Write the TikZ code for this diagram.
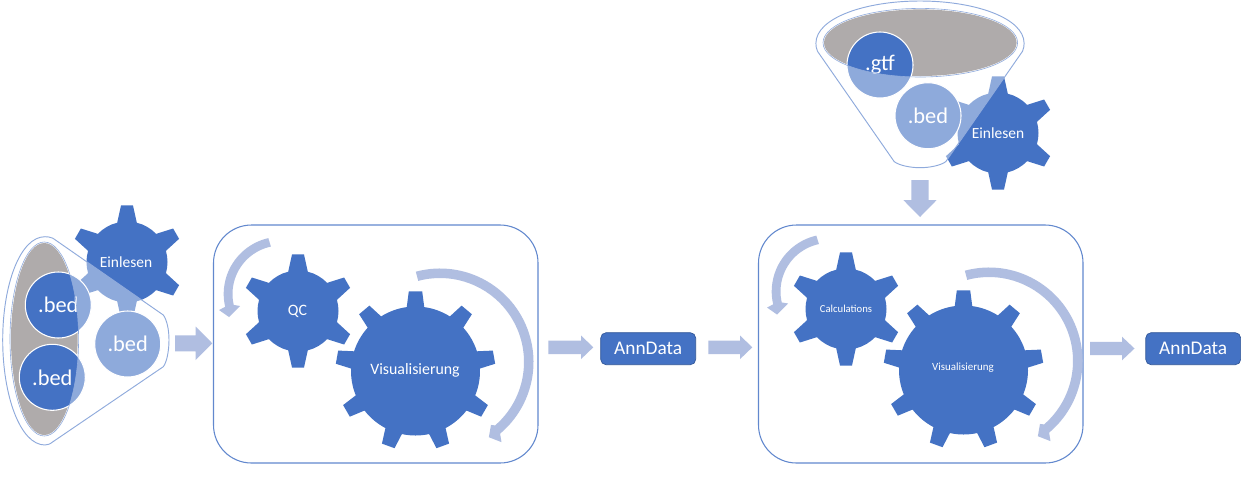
\documentclass[tikz,border=0pt]{standalone}
\usepackage{fontspec}
\setmainfont{Carlito}
\definecolor{gearblue}{HTML}{4472C4}
\definecolor{lineblue}{HTML}{8FAADC}
\definecolor{arrowblue}{HTML}{B0BEE1}
\definecolor{boxedge}{HTML}{2F5597}
\definecolor{holegray}{HTML}{AFABAB}
\tikzset{
  gearfill/.style={fill=gearblue},
  gearlabel/.style={text=white,inner sep=0pt},
  filecircle/.style={circle,fill=gearblue,draw=white,line width=.8pt,minimum size=49.5pt,inner sep=0pt,text=white,font=\fontsize{16.8}{18}\selectfont},
  flowbox/.style={draw=lineblue!40!gearblue,line width=.8pt,rounded corners=28.5pt},
  annbox/.style={rectangle,rounded corners=4pt,fill=gearblue,draw=boxedge,line width=.5pt,minimum width=71.2pt,minimum height=24pt,inner sep=0pt,text=white,font=\fontsize{14.5}{16}\selectfont},
  veil/.style={fill=white,fill opacity=.4,even odd rule},
  funnelline/.style={draw=lineblue,line width=.7pt},
  ring/.style={draw=lineblue,line width=.45pt},
  blockarrow/.style={fill=arrowblue},
}
% cx, cy, R, Ro, teeth, first angle, tip half-angle, root half-angle
\newcommand{\drawgear}[8]{%
  \begin{scope}[shift={(#1,-#2)}]
    \fill[gearfill] (#6+#8:#3)
      \foreach \i [evaluate=\i as \a using #6-(\i-1)*360/#5] in {1,...,#5} {
        -- (\a+#7:#4) -- (\a-#7:#4) -- (\a-#8:#3)
        arc[start angle=\a-#8, delta angle={-(360/#5-2*#8)}, radius=#3]
      } -- cycle;
  \end{scope}}
\newcommand{\smallgear}[2]{\drawgear{#1}{#2}{40.5}{57}{6}{90}{6}{14}}
\newcommand{\biggear}[2]{\drawgear{#1}{#2}{64.5}{80}{9}{90}{4.8}{7.8}}
% right-pointing block arrow: x0, x1, head start, y, shaft half, head half
\newcommand{\rightblock}[6]{\fill[blockarrow] (#1,-#4+#5) -- (#3,-#4+#5) -- (#3,-#4+#6) -- (#2,-#4) -- (#3,-#4-#6) -- (#3,-#4-#5) -- (#1,-#4-#5) -- cycle;}
\newcommand{\bigsweep}[2]{%
  \begin{scope}[shift={(#1,-#2)}]
    \fill[blockarrow] (105:93.5) arc[start angle=105, end angle=-50, radius=93.5]
      -- (-52.5:101) -- (-57:89.7) -- (-51:81) -- (-49:84)
      arc[start angle=-49, end angle=105, radius=84] -- cycle;
  \end{scope}}
\newcommand{\smallsweep}[2]{%
  \begin{scope}[shift={(#1,-#2)}]
    \fill[blockarrow] (102.8:57.3) arc[start angle=102.8, end angle=193, radius=57.3]
      -- (-62,-16) -- (-52,-23) -- (-41,-12) -- (193:48.5)
      arc[start angle=193, end angle=102, radius=48.5] -- cycle;
  \end{scope}}
\begin{document}
\begin{tikzpicture}[x=.75pt,y=.75pt]
\useasboundingbox (0,0) rectangle (1241,-494);
\fill[white] (0,0) rectangle (1241,-494);

% left funnel
\fill[holegray] (44.3,-339) ellipse[x radius=33.3,y radius=96];
\smallgear{127}{262}
\node[gearlabel,font=\fontsize{11.6}{13}\selectfont] (einA) at (126,-262) {Einlesen};
\node[filecircle] (bedA) at (58.3,-305) {.bed};
\node[filecircle] (bedB) at (52.3,-377.3) {.bed};
\node[filecircle] (bedC) at (127.7,-344) {.bed};
\fill[veil] (53,-238.3) .. controls (50,-237) and (48,-236.7) .. (45,-236.7)
  .. controls (20,-236.7) and (2.7,-285) .. (2.7,-340)
  .. controls (2.7,-395) and (20,-445) .. (45,-445)
  .. controls (48,-445) and (50,-444) .. (53,-441.7)
  -- (163.3,-366.7) .. controls (167,-362) and (169,-350) .. (169,-340)
  .. controls (169,-330) and (167,-320) .. (163.3,-315) -- cycle
  (44.3,-339) ellipse[x radius=34.3,y radius=97];
\draw[funnelline] (53,-238.3) .. controls (50,-237) and (48,-236.7) .. (45,-236.7)
  .. controls (20,-236.7) and (2.7,-285) .. (2.7,-340)
  .. controls (2.7,-395) and (20,-445) .. (45,-445)
  .. controls (48,-445) and (50,-444) .. (53,-441.7)
  -- (163.3,-366.7) .. controls (167,-362) and (169,-350) .. (169,-340)
  .. controls (169,-330) and (167,-320) .. (163.3,-315) -- cycle;
\draw[ring] (44.3,-339) ellipse[x radius=34.3,y radius=97];
\rightblock{175}{212.3}{195.7}{343.3}{8}{16.7}

% top funnel
\fill[holegray] (920.3,-42.7) ellipse[x radius=96.3,y radius=33.3];
\smallgear{998}{133}
\node[gearlabel,font=\fontsize{11.6}{13}\selectfont] (einB) at (998,-133) {Einlesen};
\node[filecircle] (gtf) at (880,-65) {.gtf};
\node[filecircle] (bedD) at (928,-115.7) {.bed};
\fill[veil] (817.5,-51.3) .. controls (816.3,-48.3) and (815.9,-46.3) .. (815.9,-43.3)
  .. controls (815.9,-18) and (865,-1) .. (920,-1)
  .. controls (975,-1) and (1024.1,-18) .. (1024.1,-43.3)
  .. controls (1024.1,-46.3) and (1023.7,-48.3) .. (1022.5,-51.3)
  -- (945.8,-161.6) .. controls (941,-165.3) and (930,-167.7) .. (920,-167.7)
  .. controls (910,-167.7) and (899,-165.3) .. (894.2,-161.6) -- cycle
  (920.3,-42.7) ellipse[x radius=97.3,y radius=34.3];
\draw[funnelline] (817.5,-51.3) .. controls (816.3,-48.3) and (815.9,-46.3) .. (815.9,-43.3)
  .. controls (815.9,-18) and (865,-1) .. (920,-1)
  .. controls (975,-1) and (1024.1,-18) .. (1024.1,-43.3)
  .. controls (1024.1,-46.3) and (1023.7,-48.3) .. (1022.5,-51.3)
  -- (945.8,-161.6) .. controls (941,-165.3) and (930,-167.7) .. (920,-167.7)
  .. controls (910,-167.7) and (899,-165.3) .. (894.2,-161.6) -- cycle;
\draw[ring] (920.3,-42.7) ellipse[x radius=97.3,y radius=34.3];
\fill[blockarrow] (911.3,-180) -- (928.7,-180) -- (928.7,-200) -- (936.7,-200) -- (920,-217) -- (903.3,-200) -- (911.3,-200) -- cycle;

% first box
\draw[flowbox] (213.5,-225) rectangle (538,-463);
\smallsweep{281}{294}
\bigsweep{440}{362}
\smallgear{298}{311}
\biggear{415.5}{371}
\node[gearlabel,font=\fontsize{11.9}{14}\selectfont] (qc) at (297.5,-311) {QC};
\node[gearlabel,font=\fontsize{11.9}{14}\selectfont] (visA) at (415,-370) {Visualisierung};

% second box
\draw[flowbox] (758.5,-225) rectangle (1083,-463);
\smallsweep{829}{291.5}
\bigsweep{989}{361}
\smallgear{846}{309}
\biggear{963.5}{370}
\node[gearlabel,font=\fontsize{8}{10}\selectfont] (calc) at (846,-309) {Calculations};
\node[gearlabel,font=\fontsize{8.2}{10}\selectfont] (visB) at (963,-368) {Visualisierung};

% results
\rightblock{548.3}{593.3}{581}{347.3}{6.7}{11.8}
\node[annbox] (annA) at (648.2,-348.7) {AnnData};
\rightblock{708.3}{752.3}{740}{347.3}{6.7}{11.8}
\rightblock{1090}{1134.5}{1122}{348.5}{6.7}{11.8}
\node[annbox] (annB) at (1193.2,-348.7) {AnnData};
\end{tikzpicture}
\end{document}
